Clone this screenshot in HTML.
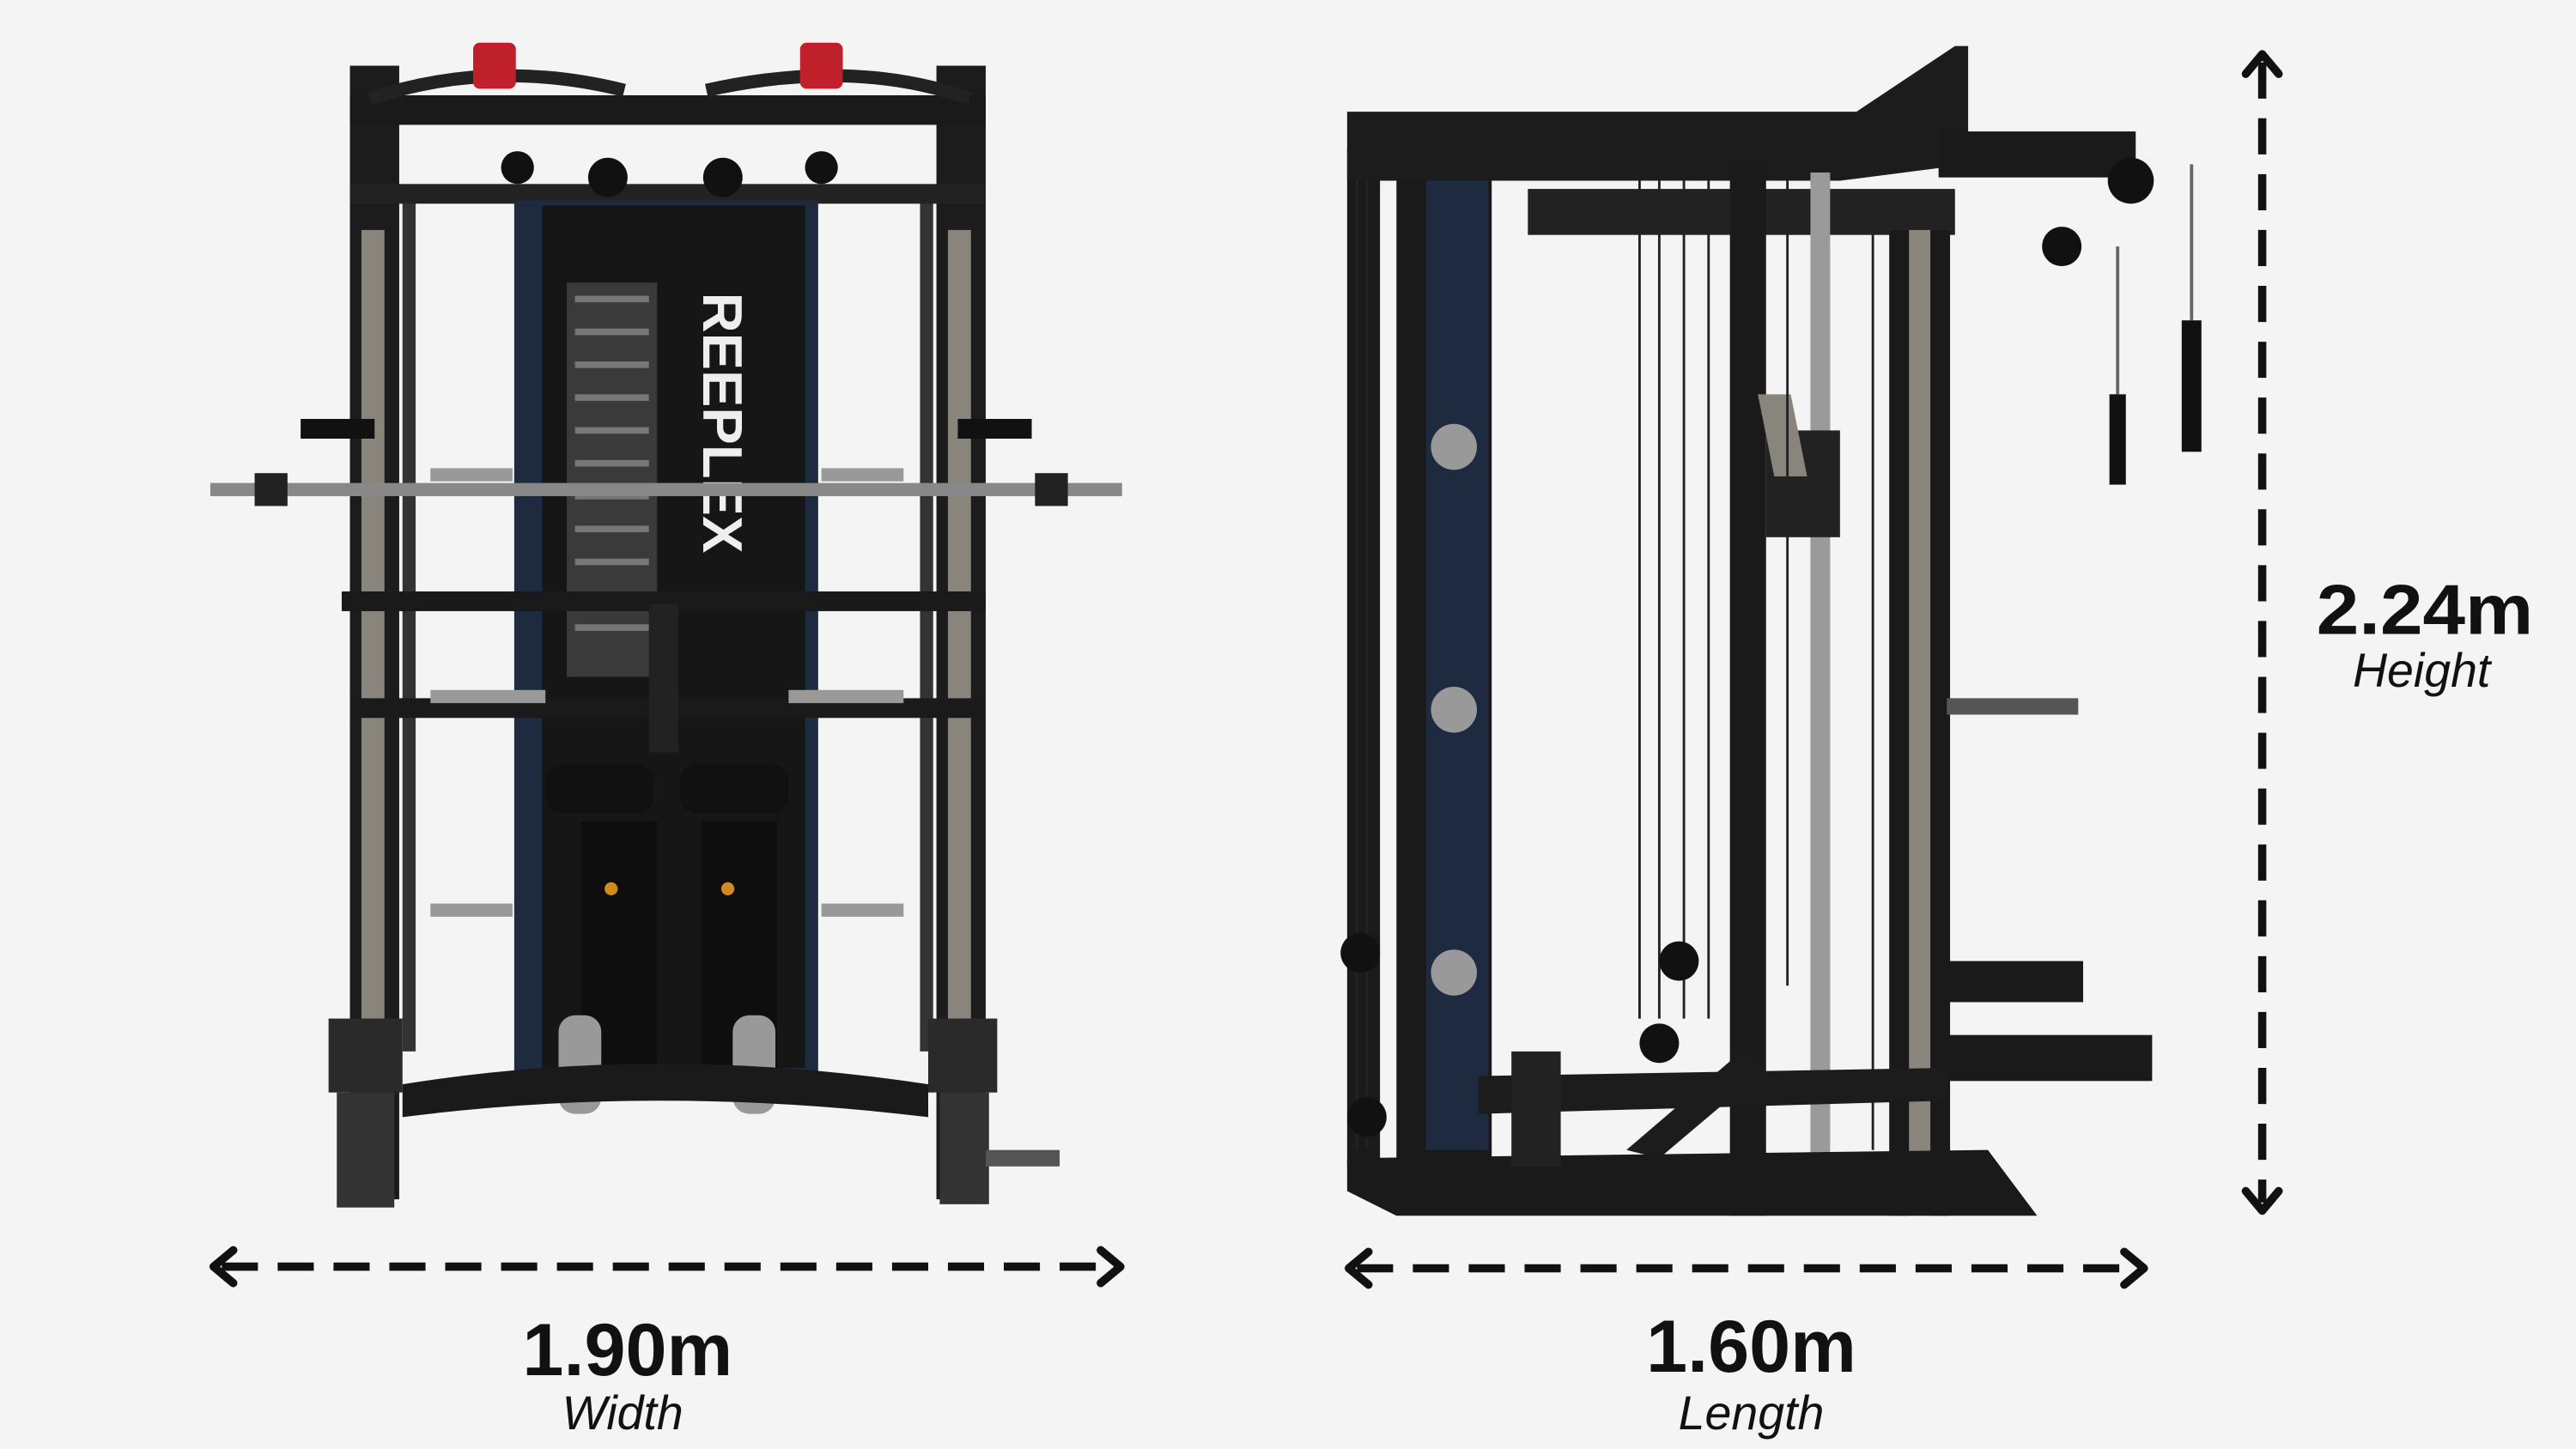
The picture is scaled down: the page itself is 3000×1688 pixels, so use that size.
<!DOCTYPE html>
<html><head><meta charset="utf-8">
<style>
html,body{margin:0;padding:0;background:#f4f4f4;}
svg{display:block;}
.b{font-family:"Liberation Sans",sans-serif;font-weight:bold;fill:#111;}
.i{font-family:"Liberation Sans",sans-serif;font-style:italic;fill:#111;}
</style></head><body>
<svg width="3000" height="1688" viewBox="0 0 1568 882" preserveAspectRatio="none" xmlns="http://www.w3.org/2000/svg">
<rect width="1568" height="882" fill="#f4f4f4"/>
<!-- FRONT MACHINE -->
<g>
 <rect x="213" y="40" width="30" height="690" fill="#1c1c1c"/>
 <rect x="220" y="140" width="14" height="480" fill="#8a857c"/>
 <rect x="570" y="40" width="30" height="690" fill="#1c1c1c"/>
 <rect x="577" y="140" width="14" height="480" fill="#8a857c"/>
 <rect x="245" y="120" width="8" height="520" fill="#333"/>
 <rect x="560" y="120" width="8" height="520" fill="#333"/>
 <rect x="213" y="58" width="387" height="18" fill="#1a1a1a"/>
 <rect x="213" y="112" width="387" height="12" fill="#222"/>
 <path d="M225 60 Q300 35 380 55 M430 55 Q520 35 590 60" stroke="#222" stroke-width="8" fill="none"/>
 <rect x="288" y="26" width="26" height="28" rx="4" fill="#c0202a"/>
 <rect x="487" y="26" width="26" height="28" rx="4" fill="#c0202a"/>
 <circle cx="370" cy="108" r="12" fill="#111"/><circle cx="440" cy="108" r="12" fill="#111"/>
 <circle cx="315" cy="102" r="10" fill="#111"/><circle cx="500" cy="102" r="10" fill="#111"/>
 <rect x="313" y="122" width="185" height="530" fill="#1d2a40"/>
 <rect x="330" y="125" width="160" height="525" fill="#161616"/>
 <rect x="345" y="172" width="55" height="240" fill="#3a3a3a"/>
 <g fill="#777"><rect x="350" y="180" width="45" height="4"/><rect x="350" y="200" width="45" height="4"/><rect x="350" y="220" width="45" height="4"/><rect x="350" y="240" width="45" height="4"/><rect x="350" y="260" width="45" height="4"/><rect x="350" y="280" width="45" height="4"/><rect x="350" y="300" width="45" height="4"/><rect x="350" y="320" width="45" height="4"/><rect x="350" y="340" width="45" height="4"/><rect x="350" y="380" width="45" height="4"/></g>
 <text x="0" y="0" transform="translate(428,178) rotate(90)" font-family="Liberation Sans,sans-serif" font-weight="bold" font-size="34" fill="#eee">REEPLEX</text>
 <rect x="128" y="294" width="555" height="8" fill="#888"/>
 <rect x="155" y="288" width="20" height="20" fill="#222"/>
 <rect x="630" y="288" width="20" height="20" fill="#222"/>
 <rect x="208" y="360" width="392" height="12" fill="#1a1a1a"/>
 <rect x="215" y="425" width="380" height="12" fill="#1a1a1a"/>
 <rect x="395" y="368" width="18" height="90" fill="#222"/>
 <rect x="332" y="465" width="66" height="30" rx="10" fill="#111"/>
 <rect x="414" y="465" width="66" height="30" rx="10" fill="#111"/>
 <rect x="354" y="500" width="46" height="150" fill="#0e0e0e"/>
 <rect x="427" y="500" width="46" height="150" fill="#0e0e0e"/>
 <circle cx="372" cy="541" r="4" fill="#d08a20"/><circle cx="443" cy="541" r="4" fill="#d08a20"/>
 <rect x="340" y="618" width="26" height="60" rx="10" fill="#999"/>
 <rect x="446" y="618" width="26" height="60" rx="10" fill="#999"/>
 <rect x="262" y="420" width="70" height="8" fill="#999"/><rect x="480" y="420" width="70" height="8" fill="#999"/>
 <rect x="262" y="550" width="50" height="8" fill="#999"/><rect x="500" y="550" width="50" height="8" fill="#999"/>
 <rect x="262" y="285" width="50" height="8" fill="#999"/><rect x="500" y="285" width="50" height="8" fill="#999"/>
 <rect x="183" y="255" width="45" height="12" fill="#111"/><rect x="583" y="255" width="45" height="12" fill="#111"/>
 <rect x="200" y="620" width="45" height="45" fill="#2a2a2a"/>
 <rect x="565" y="620" width="42" height="45" fill="#2a2a2a"/>
 <path d="M245 660 Q400 635 565 660 L565 680 Q400 660 245 680Z" fill="#1a1a1a"/>
 <rect x="205" y="665" width="35" height="70" fill="#333"/>
 <rect x="572" y="665" width="30" height="68" fill="#333"/>
 <rect x="600" y="700" width="45" height="10" fill="#555"/>
</g>
<!-- SIDE MACHINE -->
<g>
 <rect x="820" y="90" width="20" height="620" fill="#1a1a1a"/>
 <rect x="850" y="70" width="58" height="660" fill="#1a1a1a"/>
 <rect x="868" y="100" width="38" height="600" fill="#1d2a40"/>
 <path d="M820 68 L1130 68 L1190 28 L1198 28 L1198 100 L1120 110 L820 110Z" fill="#1c1c1c"/>
 <rect x="930" y="115" width="260" height="28" fill="#222"/>
 <rect x="1053" y="100" width="22" height="640" fill="#1a1a1a"/>
 <rect x="1102" y="105" width="12" height="630" fill="#9a9a9a"/>
 <rect x="1150" y="140" width="35" height="600" fill="#8a857c"/>
 <rect x="1150" y="140" width="12" height="600" fill="#1a1a1a"/>
 <rect x="1175" y="140" width="12" height="600" fill="#1a1a1a"/>
 <rect x="1075" y="262" width="45" height="65" fill="#222"/>
 <path d="M1070 240 L1090 240 L1100 290 L1080 290Z" fill="#8a857c"/>
 <g stroke="#222" stroke-width="1.5">
  <line x1="826" y1="110" x2="826" y2="700"/><line x1="832" y1="110" x2="832" y2="700"/>
  <line x1="998" y1="110" x2="998" y2="620"/><line x1="1010" y1="110" x2="1010" y2="620"/>
  <line x1="1025" y1="110" x2="1025" y2="620"/><line x1="1040" y1="110" x2="1040" y2="620"/>
  <line x1="1088" y1="110" x2="1088" y2="600"/><line x1="1140" y1="140" x2="1140" y2="700"/>
 </g>
 <rect x="1180" y="80" width="120" height="28" fill="#1a1a1a"/>
 <circle cx="1297" cy="110" r="14" fill="#111"/>
 <circle cx="1255" cy="150" r="12" fill="#111"/>
 <rect x="1284" y="240" width="10" height="55" fill="#111"/>
 <rect x="1328" y="195" width="12" height="80" fill="#111"/>
 <line x1="1289" y1="150" x2="1289" y2="240" stroke="#666" stroke-width="2"/>
 <line x1="1334" y1="100" x2="1334" y2="195" stroke="#666" stroke-width="2"/>
 <rect x="1185" y="425" width="80" height="10" fill="#555"/>
 <rect x="1183" y="585" width="85" height="25" fill="#1a1a1a"/>
 <rect x="1183" y="630" width="127" height="28" fill="#1a1a1a"/>
 <circle cx="885" cy="272" r="14" fill="#999"/><circle cx="885" cy="432" r="14" fill="#999"/><circle cx="885" cy="592" r="14" fill="#999"/>
 <circle cx="1022" cy="585" r="12" fill="#111"/><circle cx="1010" cy="635" r="12" fill="#111"/>
 <circle cx="828" cy="580" r="12" fill="#111"/><circle cx="832" cy="680" r="12" fill="#111"/>
 <path d="M900 655 L1185 650 L1185 670 L900 678Z" fill="#1c1c1c"/>
 <path d="M990 700 L1060 640 L1075 650 L1010 705Z" fill="#1c1c1c"/>
 <path d="M820 705 L1210 700 L1240 740 L850 740 L820 725Z" fill="#1a1a1a"/>
 <rect x="920" y="640" width="30" height="70" fill="#222"/>
</g>
<!-- DIMENSION ARROWS -->
<g stroke="#111" stroke-width="5" fill="none">
 <line x1="135" y1="771" x2="677" y2="771" stroke-dasharray="22,12"/>
 <line x1="826" y1="772" x2="1300" y2="772" stroke-dasharray="22,12"/>
 <line x1="1377" y1="38" x2="1377" y2="732" stroke-dasharray="22,12"/>
 <polyline points="142,761 130,771 142,781" stroke-linecap="round" stroke-linejoin="round"/>
 <polyline points="670,761 682,771 670,781" stroke-linecap="round" stroke-linejoin="round"/>
 <polyline points="833,762 821,772 833,782" stroke-linecap="round" stroke-linejoin="round"/>
 <polyline points="1293,762 1305,772 1293,782" stroke-linecap="round" stroke-linejoin="round"/>
 <polyline points="1367,45 1377,33 1387,45" stroke-linecap="round" stroke-linejoin="round"/>
 <polyline points="1367,725 1377,737 1387,725" stroke-linecap="round" stroke-linejoin="round"/>
</g>
<text class="b" x="382" y="837" font-size="45" text-anchor="middle" textLength="128" lengthAdjust="spacingAndGlyphs">1.90m</text>
<text class="i" x="379" y="870" font-size="29" text-anchor="middle">Width</text>
<text class="b" x="1066" y="835" font-size="45" text-anchor="middle" textLength="128" lengthAdjust="spacingAndGlyphs">1.60m</text>
<text class="i" x="1066" y="870" font-size="29" text-anchor="middle">Length</text>
<text class="b" x="1476" y="386" font-size="43" text-anchor="middle" textLength="132" lengthAdjust="spacingAndGlyphs">2.24m</text>
<text class="i" x="1474" y="418" font-size="29" text-anchor="middle">Height</text>
</svg>
</body></html>
